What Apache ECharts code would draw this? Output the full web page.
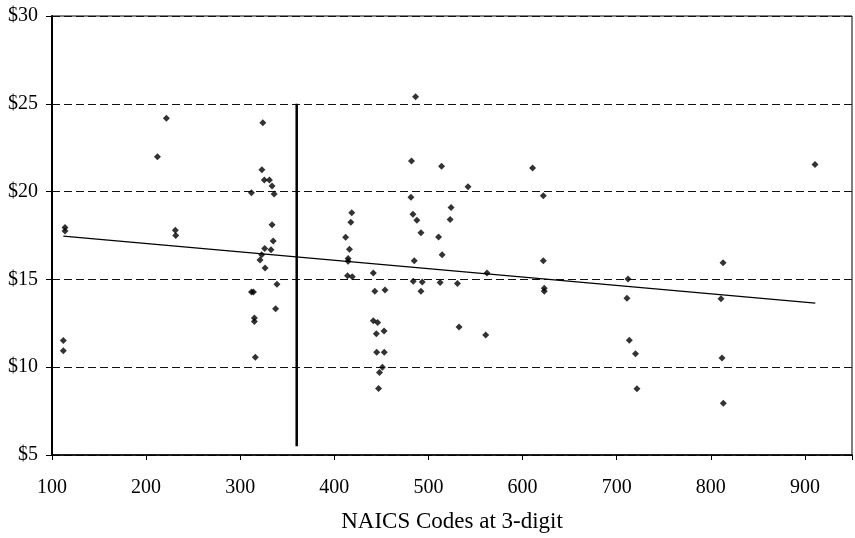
<!DOCTYPE html>
<html><head><meta charset="utf-8">
<script src="https://cdn.jsdelivr.net/npm/echarts@6/dist/echarts.min.js"></script>
<style>html,body{margin:0;padding:0;background:#fff}#c{width:855px;height:538px}</style>
</head><body><div id="c"></div>
<script>
// NAICS code (x) and wage (y) of each point
const naicsCodes = [113.8,113.8,112,112,212,221.5,231,231.5,311.9,312,314,315,315,316,321,322.8,323,324,325.6,326,326.4,331,332.7,333.8,333.8,335,336,337.6,339,412,414,414.6,414.6,416,417.5,418.5,419,441.4,441.4,443,444.6,445,446,447,448,451,452.8,453,453.8,481.4,482,483.5,483.8,484.9,486.3,487.7,492,492,493.4,510.7,512.4,513.9,514.5,523,524,530.8,532.5,542,560.8,562.2,610.6,622,622,623,623,710.9,712,713.4,720,721.5,810.8,811.9,813,813.3,910.7];
const wages = [17.95,17.75,11.52,10.93,21.99,24.17,17.8,17.5,19.94,14.28,14.28,12.8,12.6,10.57,16.1,16.4,21.25,23.92,20.66,16.76,15.65,20.66,16.69,20.32,18.11,17.18,19.87,13.33,14.73,17.4,15.21,16.19,16.04,16.72,18.26,18.79,15.15,15.36,12.65,14.32,11.91,10.85,12.54,8.79,9.7,10.0,12.06,10.85,14.39,19.68,21.74,18.71,14.89,16.06,25.4,18.37,17.65,14.32,14.85,17.42,14.83,21.44,16.4,18.41,19.09,14.77,12.29,20.27,11.84,15.36,21.35,19.77,16.06,14.5,14.32,13.92,15.02,11.53,10.76,8.77,13.9,10.53,15.95,7.94,21.55];
// trend line end points
const trendX = [112, 911];
const trendY = [17.46, 13.65];
// vertical marker line
const markerX = [360, 360];
const markerY = [25, 5.5];
const xTicks = [100,200,300,400,500,600,700,800,900];
const yTicks = [5,10,15,20,25,30];

const font = 'Liberation Serif';
const chart = echarts.init(document.getElementById('c'));
chart.setOption({
  animation: false,
  backgroundColor: '#fff',
  grid: {left: 52, right: 2, top: 16, bottom: 82, show: true, borderColor: '#000', borderWidth: 1},
  xAxis: {
    type: 'value', min: 100, max: 950, interval: 100,
    name: 'NAICS Codes at 3-digit', nameLocation: 'middle', nameGap: 55,
    nameTextStyle: {fontFamily: font, fontSize: 23, color: '#000'},
    axisLine: {show: true, lineStyle: {color: '#000', width: 1.5}},
    axisTick: {show: true, length: 5, lineStyle: {color: '#000'},
      interval: (i, v) => xTicks.includes(Number(v))},
    axisLabel: {margin: 23, fontFamily: font, fontSize: 20, color: '#000',
      formatter: v => xTicks.includes(v) ? String(v) : ''},
    splitLine: {show: false}
  },
  yAxis: {
    type: 'value', min: 5, max: 30, interval: 5,
    axisLine: {show: true, lineStyle: {color: '#000', width: 2}},
    axisTick: {show: true, length: 6, lineStyle: {color: '#000'}},
    axisLabel: {margin: 14, fontFamily: font, fontSize: 20, color: '#000',
      formatter: v => yTicks.includes(v) ? '$' + v : ''},
    splitLine: {show: true, lineStyle: {color: '#111', type: [8, 4], width: 1}}
  },
  series: [
    {type: 'scatter', symbol: 'diamond', symbolSize: 7, itemStyle: {color: '#000'},
     data: naicsCodes.map((x, i) => [x, wages[i]])},
    {type: 'line', symbol: 'none', lineStyle: {color: '#000', width: 1.2},
     data: trendX.map((x, i) => [x, trendY[i]])},
    {type: 'line', symbol: 'none', lineStyle: {color: '#000', width: 2.5},
     data: markerX.map((x, i) => [x, markerY[i]])}
  ]
});
</script></body></html>
